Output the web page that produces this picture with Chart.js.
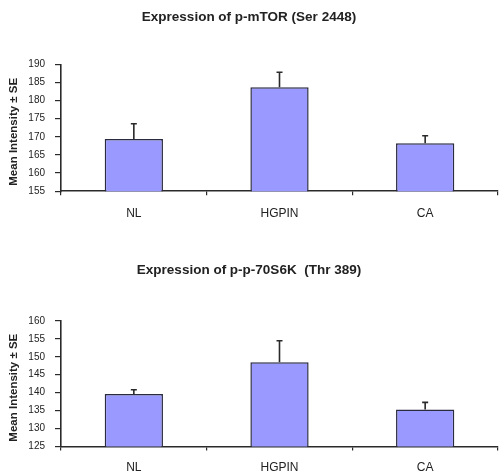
<!DOCTYPE html>
<html>
<head>
<meta charset="utf-8">
<script src="https://cdn.jsdelivr.net/npm/chart.js@4/dist/chart.umd.min.js"></script>
<style>
  html, body { margin: 0; padding: 0; background: #fff; overflow: hidden; }
  #wrap { position: relative; width: 499px; height: 474px; overflow: hidden; }
  .box { position: absolute; left: 0; width: 499px; }
</style>
</head>
<body>
<div id="wrap">
  <div class="box" style="top:0;height:236px"><canvas id="c1"></canvas></div>
  <div class="box" style="top:245px;height:240px"><canvas id="c2"></canvas></div>
</div>
<script>
const categories = ['NL', 'HGPIN', 'CA'];

const title1 = 'Expression of p-mTOR (Ser 2448)';
const values1 = [169.4, 183.7, 168.2];
const errors1 = [4.2, 4.1, 2.1];
const ticks1 = [155, 160, 165, 170, 175, 180, 185, 190];

const title2 = 'Expression of p-p-70S6K  (Thr 389)';
const values2 = [139.6, 148.5, 135.3];
const errors2 = [1.2, 6.0, 2.0];
const ticks2 = [125, 130, 135, 140, 145, 150, 155, 160];

const yAxisTitle = 'Mean Intensity \u00B1 SE';

const FONT = '"Liberation Sans", Arial, sans-serif';
const AXIS = '#2a2a2a';

const errorBarPlugin = {
  id: 'errorBars',
  afterDatasetsDraw(chart) {
    const ctx = chart.ctx;
    const yScale = chart.scales.y;
    chart.data.datasets.forEach((ds, di) => {
      const meta = chart.getDatasetMeta(di);
      meta.data.forEach((bar, i) => {
        const err = ds.errors[i];
        const y0 = yScale.getPixelForValue(ds.data[i]);
        const y1 = yScale.getPixelForValue(ds.data[i] + err);
        ctx.save();
        ctx.strokeStyle = AXIS;
        ctx.lineWidth = 1.6;
        ctx.beginPath();
        ctx.moveTo(bar.x, y0);
        ctx.lineTo(bar.x, y1);
        ctx.moveTo(bar.x - 3, y1);
        ctx.lineTo(bar.x + 3, y1);
        ctx.stroke();
        ctx.restore();
      });
    });
  }
};

const yTitlePlugin = {
  id: 'yTitle',
  afterDraw(chart, args, opts) {
    const ctx = chart.ctx;
    const a = chart.chartArea;
    ctx.save();
    ctx.translate(opts.x, (a.top + a.bottom) / 2 + opts.shift);
    ctx.rotate(-Math.PI / 2);
    ctx.font = 'bold 11.5px ' + FONT;
    ctx.fillStyle = '#222';
    ctx.textAlign = 'center';
    ctx.textBaseline = 'middle';
    ctx.fillText(opts.text, 0, 0);
    ctx.restore();
  }
};

function makeChart(id, title, values, errors, ticks, cfg) {
  return new Chart(document.getElementById(id), {
    type: 'bar',
    data: {
      labels: categories,
      datasets: [{
        data: values,
        errors: errors,
        backgroundColor: '#9999ff',
        borderColor: '#2b2b40',
        borderWidth: 1.5,
        categoryPercentage: 1.0,
        barPercentage: 0.4
      }]
    },
    plugins: [errorBarPlugin, yTitlePlugin],
    options: {
      responsive: true,
      maintainAspectRatio: false,
      animation: false,
      layout: { padding: { left: 0, right: 1, top: 0, bottom: cfg.padBottom } },
      plugins: {
        legend: { display: false },
        tooltip: { enabled: false },
        title: {
          display: true,
          text: title,
          color: '#222',
          font: { family: FONT, size: 13.5, weight: 'bold' },
          padding: { top: cfg.titleTop, bottom: cfg.titleBottom }
        },
        yTitle: { text: yAxisTitle, x: 14, shift: 4 }
      },
      scales: {
        x: {
          grid: { display: true, drawOnChartArea: false, drawTicks: true, tickLength: 4, color: AXIS, lineWidth: 1.2, offset: true },
          border: { display: true, color: AXIS, width: 1.6 },
          ticks: { color: '#222', font: { family: FONT, size: 12 }, padding: cfg.xPad }
        },
        y: {
          min: ticks[0],
          max: ticks[ticks.length - 1],
          afterFit(scale) { scale.width = 61; },
          afterBuildTicks(scale) { scale.ticks = ticks.map(v => ({ value: v })); },
          grid: { display: true, drawOnChartArea: false, drawTicks: true, tickLength: 6, color: AXIS, lineWidth: 1.2 },
          border: { display: true, color: AXIS, width: 1.6 },
          ticks: { color: '#222', font: { family: FONT, size: 10 }, padding: 10 }
        }
      }
    }
  });
}

makeChart('c1', title1, values1, errors1, ticks1, { titleTop: 8.7, titleBottom: 39.4, xPad: 10.8, padBottom: 4.8 });
makeChart('c2', title2, values2, errors2, ticks2, { titleTop: 16.9, titleBottom: 42.9, xPad: 10.1, padBottom: 0 });
</script>
</body>
</html>
